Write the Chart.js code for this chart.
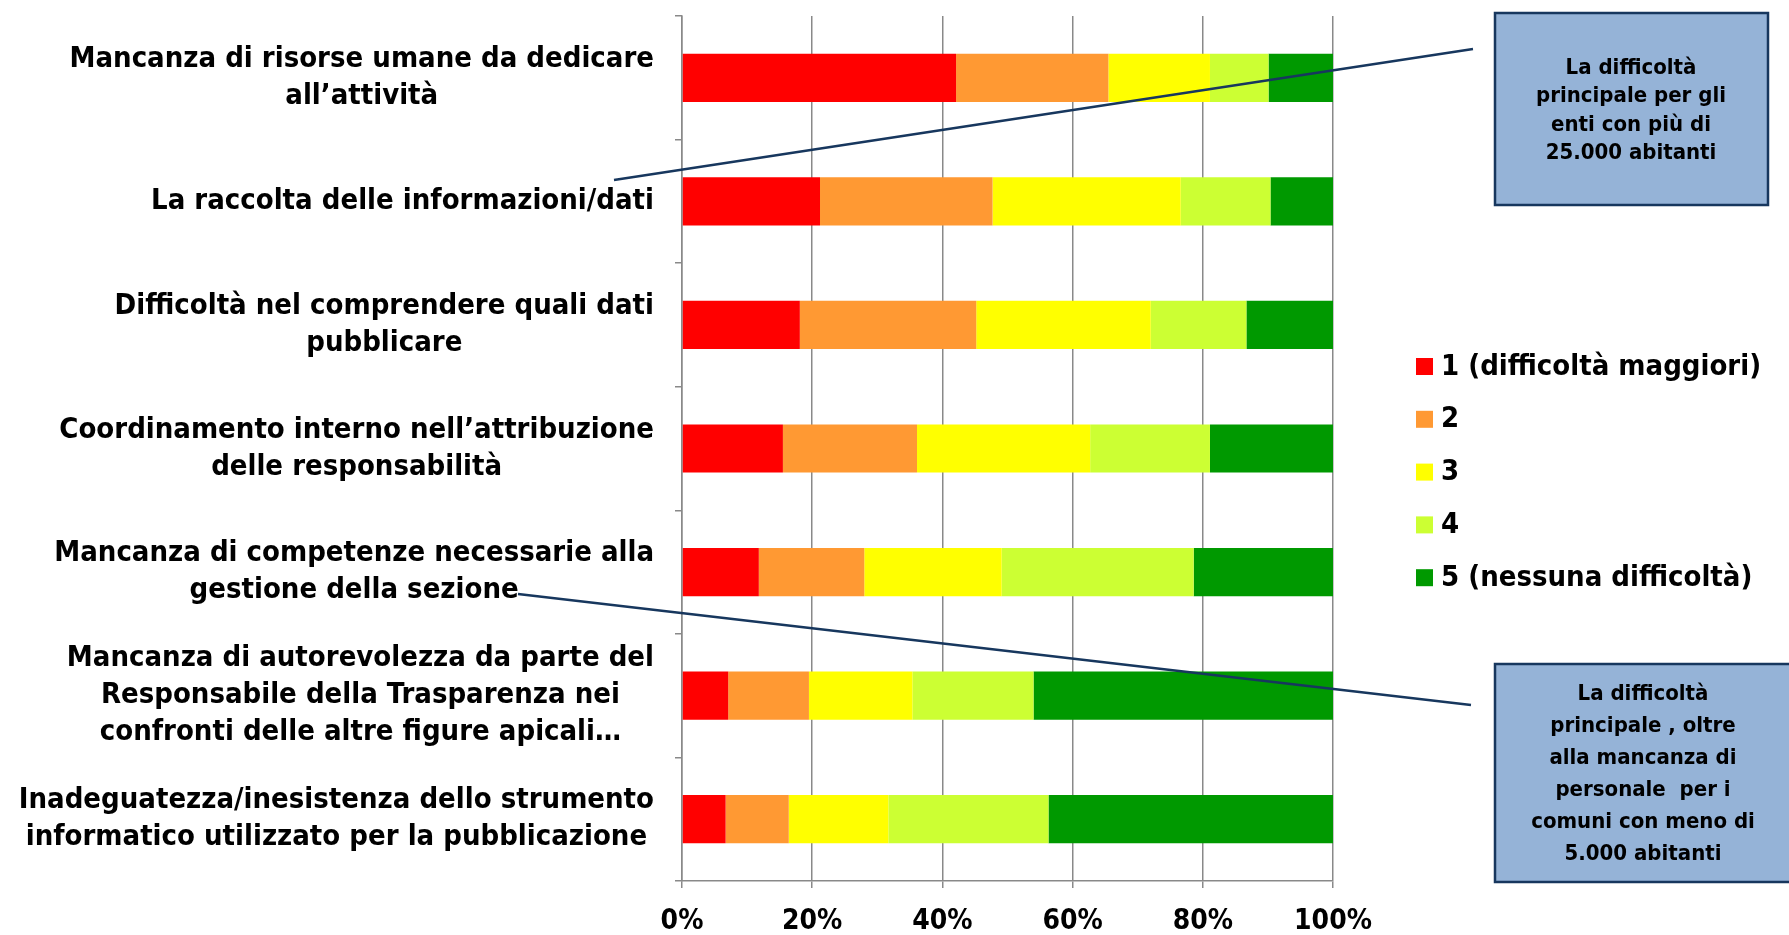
<!DOCTYPE html>
<html>
<head>
<meta charset="utf-8">
<script src="https://cdn.jsdelivr.net/npm/chart.js@4/dist/chart.umd.min.js"></script>
<style>
  html, body { margin: 0; padding: 0; background: #fff; }
  #wrap { width: 1789px; height: 935px; }
</style>
</head>
<body>
<div id="wrap"><canvas id="myChart" width="1789" height="935"></canvas></div>
<script>
'use strict';

const FONT = '"DejaVu Sans Condensed", "DejaVu Sans", sans-serif';

// categories, top to bottom (one entry per text line)
const categories = [
  ['Mancanza di risorse umane da dedicare', 'all’attività'],
  ['La raccolta delle informazioni/dati'],
  ['Difficoltà nel comprendere quali dati', 'pubblicare'],
  ['Coordinamento interno nell’attribuzione', 'delle responsabilità'],
  ['Mancanza di competenze necessarie alla', 'gestione della sezione'],
  ['Mancanza di autorevolezza da parte del', 'Responsabile della Trasparenza nei', 'confronti delle altre figure apicali…'],
  ['Inadeguatezza/inesistenza dello strumento', 'informatico utilizzato per la pubblicazione'],
];

const seriesNames = ['1 (difficoltà maggiori)', '2', '3', '4', '5 (nessuna difficoltà)'];
const seriesColors = ['#FF0000', '#FF9933', '#FFFF00', '#CCFF33', '#009900'];

// percentages
const level1 = [42.1, 21.2, 18.1, 15.5, 11.8, 7.1, 6.7];
const level2 = [23.4, 26.5, 27.1, 20.6, 16.2, 12.4, 9.7];
const level3 = [15.6, 28.9, 26.8, 26.6, 21.1, 15.9, 15.3];
const level4 = [9.0, 13.8, 14.7, 18.4, 29.5, 18.6, 24.6];
const level5 = [9.9, 9.6, 13.3, 18.9, 21.4, 46.0, 43.7];

const xTickStep = 20;
const xMax = 100;

const noteTop = ['La difficoltà', 'principale per gli', 'enti con più di', '25.000 abitanti'];
const noteBottom = ['La difficoltà', 'principale , oltre', 'alla mancanza di', 'personale  per i', 'comuni con meno di', '5.000 abitanti'];

const levels = [level1, level2, level3, level4, level5];

let datasets = [];
for ( let i = 0; i < levels.length; i++ ) {
  datasets.push( {
    label: seriesNames[i],
    data: levels[i],
    backgroundColor: seriesColors[i],
    borderWidth: 0,
    barPercentage: 0.39,
    categoryPercentage: 1,
  } );
}

function drawNote( ctx, box, lines, textTop, lineGap ) {
  ctx.fillStyle = '#95B3D7';
  ctx.fillRect( box.x, box.y, box.w, box.h );
  ctx.strokeStyle = '#17375E';
  ctx.lineWidth = 2.5;
  ctx.strokeRect( box.x, box.y, box.w, box.h );
  ctx.fillStyle = '#000';
  ctx.font = 'bold 22px ' + FONT;
  ctx.textAlign = 'center';
  ctx.textBaseline = 'middle';
  for ( let i = 0; i < lines.length; i++ ) {
    ctx.fillText( lines[i], box.cx, textTop + i * lineGap );
  }
}

const overlay = {
  id: 'overlay',
  afterDraw( chart ) {
    const ctx = chart.ctx;
    const yScale = chart.scales.y;
    const area = chart.chartArea;
    ctx.save();

    // category labels: block right aligned, lines centred inside the block
    ctx.font = 'bold 29px ' + FONT;
    ctx.fillStyle = '#000';
    ctx.textAlign = 'center';
    ctx.textBaseline = 'middle';
    const rightEdge = area.left - 28;
    for ( let i = 0; i < categories.length; i++ ) {
      const lines = categories[i];
      const y = yScale.getPixelForValue( i );
      let widest = 0;
      for ( let j = 0; j < lines.length; j++ ) {
        widest = Math.max( widest, ctx.measureText( lines[j] ).width );
      }
      const cx = rightEdge - widest / 2;
      for ( let j = 0; j < lines.length; j++ ) {
        ctx.fillText( lines[j], cx, y + ( j - ( lines.length - 1 ) / 2 ) * 37 );
      }
    }

    // connector lines
    ctx.strokeStyle = '#17375E';
    ctx.lineWidth = 2.5;
    ctx.beginPath();
    ctx.moveTo( 614, 180 );
    ctx.lineTo( 1473, 49 );
    ctx.moveTo( 518, 594 );
    ctx.lineTo( 1471, 705 );
    ctx.stroke();

    drawNote( ctx, { x: 1495, y: 13, w: 273, h: 192, cx: 1631 }, noteTop, 68, 28.5 );
    drawNote( ctx, { x: 1495, y: 664, w: 300, h: 218, cx: 1643 }, noteBottom, 694, 32 );

    // legend
    const ds = chart.data.datasets;
    ctx.font = 'bold 29px ' + FONT;
    ctx.textAlign = 'left';
    for ( let i = 0; i < ds.length; i++ ) {
      const y = 366 + i * 52.8;
      ctx.fillStyle = ds[i].backgroundColor;
      ctx.fillRect( 1416, y - 8, 17, 17 );
      ctx.fillStyle = '#000';
      ctx.fillText( ds[i].label, 1441, y + 1 );
    }

    ctx.restore();
  }
};

let ctx = document.getElementById( 'myChart' ).getContext( '2d' );
// eslint-disable-next-line no-unused-vars
let myChart = new Chart( ctx, {
  type: 'bar',
  data: {
    labels: categories,
    datasets: datasets
  },
  options: {
    indexAxis: 'y',
    responsive: false,
    animation: false,
    devicePixelRatio: 1,
    layout: { padding: { top: 16, right: 456, left: 0, bottom: 0 } },
    plugins: {
      legend: { display: false },
      tooltip: { enabled: false }
    },
    scales: {
      x: {
        stacked: true,
        min: 0,
        max: xMax,
        ticks: {
          stepSize: xTickStep,
          callback: ( v ) => v + '%',
          color: '#000',
          font: { family: FONT, size: 28, weight: 'bold' },
          padding: 17,
          maxRotation: 0
        },
        grid: { color: '#898989', lineWidth: 1.5, tickLength: 7 },
        border: { color: '#898989', width: 1.5 },
        afterFit: ( scale ) => { scale.height = 54; }
      },
      y: {
        stacked: true,
        ticks: { display: false },
        grid: { offset: true, drawOnChartArea: false, color: '#898989', lineWidth: 1.5, tickLength: 7 },
        border: { color: '#898989', width: 1.5 },
        afterFit: ( scale ) => { scale.width = 682; }
      }
    }
  },
  plugins: [overlay]
} );
</script>
</body>
</html>
